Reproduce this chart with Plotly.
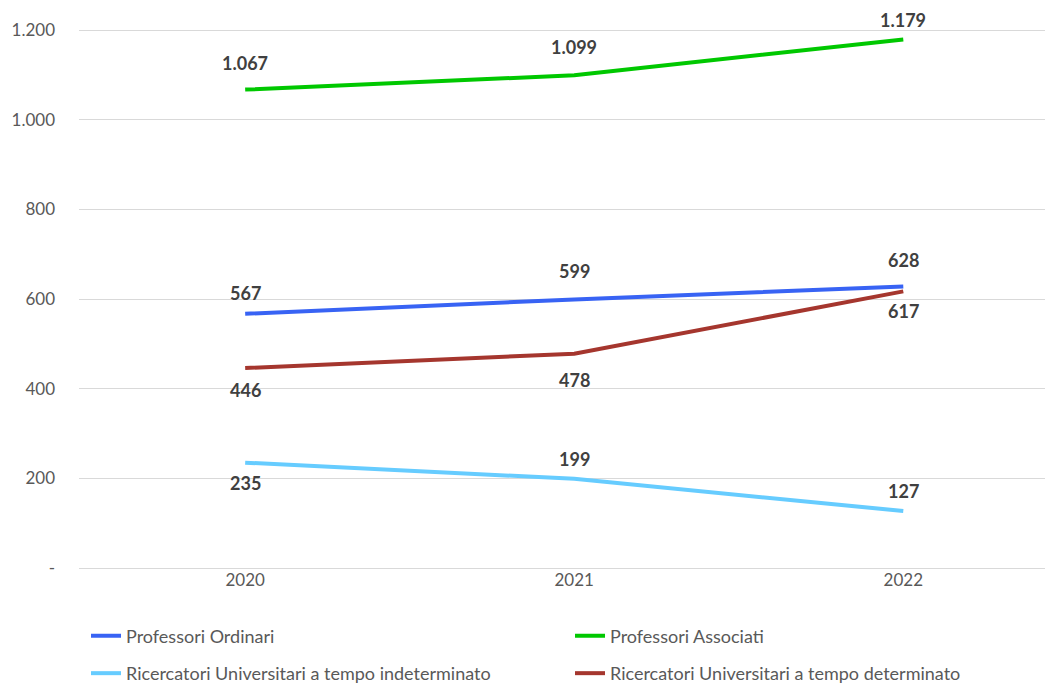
import plotly.graph_objects as go

anni = ["2020", "2021", "2022"]
ordinari = [567, 599, 628]
associati = [1067, 1099, 1179]
ric_indet = [235, 199, 127]
ric_det = [446, 478, 617]

y_ticks = [0, 200, 400, 600, 800, 1000, 1200]
y_ticktext = ["-", "200", "400", "600", "800", "1.000", "1.200"]

series = [
    # name, values, colour, label shift (px, + above / - below), legend
    ("Professori Ordinari", ordinari, "#3863F4", [21, 28, 26], "legend"),
    ("Professori Associati", associati, "#00C800", [27, 28, 19], "legend"),
    ("Ricercatori Universitari a tempo indeterminato", ric_indet, "#66CCFF",
     [-20, 20, 20], "legend2"),
    ("Ricercatori Universitari a tempo determinato", ric_det, "#A5362E",
     [-22, -26, -20], "legend2"),
]

FONT = "Lato, Carlito, Calibri, sans-serif"


def fmt(v):
    return f"{v:,}".replace(",", ".")


fig = go.Figure()
annotations = []
for name, vals, color, shifts, leg in series:
    fig.add_trace(go.Scatter(
        x=anni, y=vals, mode="lines", name=name,
        line=dict(color=color, width=4), legend=leg
    ))
    # category index as x so "2020" is not read as position 2020
    for i, (yv, sh) in enumerate(zip(vals, shifts)):
        annotations.append(dict(
            x=i, y=yv, text="<b>" + fmt(yv) + "</b>", showarrow=False,
            yshift=sh, font=dict(family=FONT, size=18, color="#404040")
        ))

fig.update_xaxes(
    type="category", range=[-0.505, 2.455], showgrid=False, zeroline=False,
    showline=False, ticks="", tickfont=dict(family=FONT, size=17, color="#595959")
)
fig.update_yaxes(
    range=[0, 1244.6], tickvals=y_ticks, ticktext=y_ticktext,
    showgrid=True, gridcolor="#D9D9D9", gridwidth=1,
    zeroline=True, zerolinecolor="#D9D9D9", zerolinewidth=1,
    ticklabelstandoff=23, tickfont=dict(family=FONT, size=17, color="#595959")
)

legend_style = dict(
    orientation="h", xanchor="left", yanchor="middle",
    entrywidth=439, entrywidthmode="pixels",
    font=dict(family=FONT, size=18, color="#595959"),
    bgcolor="rgba(0,0,0,0)", itemclick=False
)
# page body has an 8px margin, so the figure is 8px smaller than the window
fig.update_layout(
    width=1045, height=676,
    margin=dict(l=71, r=0, t=2, b=116, autoexpand=False),
    plot_bgcolor="white", paper_bgcolor="white",
    annotations=annotations,
    legend=dict(x=0.0072, y=-0.122, **legend_style),
    legend2=dict(x=0.0072, y=-0.189, **legend_style),
)

fig.write_html("out.html")
